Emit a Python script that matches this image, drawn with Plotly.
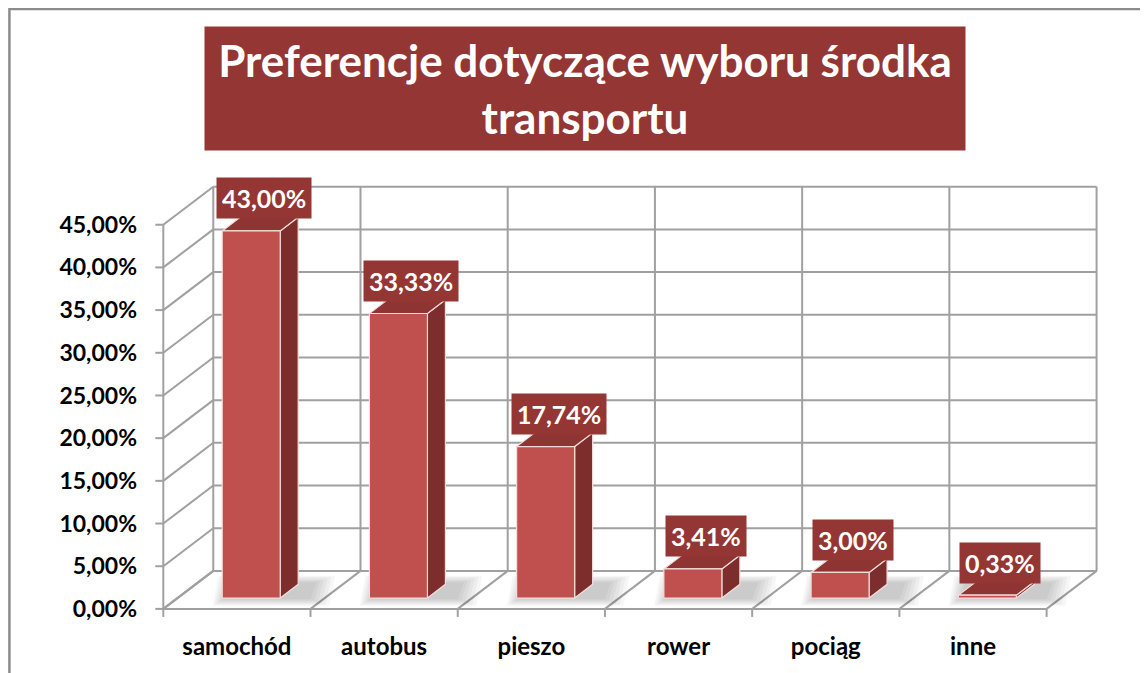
import plotly.graph_objects as go

# ---- data ----
categories = ["samochód", "autobus", "pieszo", "rower", "pociąg", "inne"]
values = [43.00, 33.33, 17.74, 3.41, 3.00, 0.33]
value_labels = ["43,00%", "33,33%", "17,74%", "3,41%", "3,00%", "0,33%"]
y_ticks = [0, 5, 10, 15, 20, 25, 30, 35, 40, 45]
y_tick_labels = ["0,00%", "5,00%", "10,00%", "15,00%", "20,00%", "25,00%",
                 "30,00%", "35,00%", "40,00%", "45,00%"]
title_text = "Preferencje dotyczące wyboru środka<br>transportu"

# ---- geometry / style ----
OFF = 8                      # page body margin
W, H = 1148 - OFF, 673 - OFF
PXU = 147.33                 # px per category unit
PYU = 8.533                  # px per percent
X0PX, Y0PX = 163 - OFF, 609 - OFF
N = len(categories)
YMAX = 45
DX = 50 / PXU
DY = 38 / PYU
XLO, XHI = -0.07, N + DX + 0.03
YLO, YHI = -1.3, YMAX + DY + 0.2

l = X0PX + XLO * PXU
pw = (XHI - XLO) * PXU
r = W - l - pw
bpx = Y0PX - YLO * PYU
b = H - bpx
t = Y0PX - YHI * PYU
ph = bpx - t

def pxx(px):
    return (px - OFF - l) / pw

def pxy(py):
    return (bpx - (py - OFF)) / ph

GRID = "#A0A0A0"
FRONT = "#C0504D"
SIDE = "#7D2E2C"
TOP = "#8E3432"
LABEL_BG = "#943634"
EDGE = "#F2DCDB"
FONT = "Lato"

fig = go.Figure()

def add_lines(segs, color=GRID, width=2):
    xs, ys = [], []
    for (xa, ya, xb, yb) in segs:
        xs += [xa, xb, None]
        ys += [ya, yb, None]
    fig.add_trace(go.Scatter(x=xs, y=ys, mode="lines", line=dict(color=color, width=width),
                             hoverinfo="skip", showlegend=False))

def add_poly(xs, ys, fill, line_color=None, line_width=0):
    fig.add_trace(go.Scatter(x=xs + [xs[0]], y=ys + [ys[0]], mode="lines", fill="toself",
                             fillcolor=fill,
                             line=dict(color=line_color or "rgba(0,0,0,0)", width=line_width),
                             hoverinfo="skip", showlegend=False))

segs = []
for v in y_ticks:
    segs.append((DX, v + DY, N + DX, v + DY))
for i in range(N + 1):
    segs.append((i + DX, DY, i + DX, YMAX + DY))
for v in y_ticks:
    segs.append((0, v, DX, v + DY))
segs.append((0, 0, 0, YMAX))
for i in range(N + 1):
    segs.append((i, 0, i + DX, DY))
segs.append((0, 0, N, 0))
tick_dx = 8 / PXU
for v in y_ticks:
    segs.append((-tick_dx, v, 0, v))
for i in range(N + 1):
    segs.append((i, 0, i, -8 / PYU))
add_lines(segs)

HW = 0.197
F1, F2 = 0.286, 0.646
ddx, ddy = (F2 - F1) * DX, (F2 - F1) * DY
for i, v in enumerate(values):
    c = i + 0.5
    x0 = c - HW + F1 * DX
    x1 = c + HW + F1 * DX
    y0 = F1 * DY
    y1 = v + F1 * DY
    # soft shadow on the floor
    for k in range(6):
        e = 0.16 - k * 0.025
        sx0, sx1 = x0 - e * 0.6 + 0.03, x1 + ddx + e + 0.05
        sy0 = y0 - 0.9 + k * 0.15
        sy1 = y0 + ddy + 1.0 - k * 0.15
        add_poly([sx0, sx1, sx1 + 0.04, sx0 + 0.04], [sy0, sy0, sy1, sy1], "rgba(0,0,0,0.035)")
    add_poly([x1, x1 + ddx, x1 + ddx, x1], [y0, y0 + ddy, y1 + ddy, y1], SIDE, EDGE, 1.2)
    add_poly([x0, x1, x1 + ddx, x0 + ddx], [y1, y1, y1 + ddy, y1 + ddy], TOP, EDGE, 1.2)
    add_poly([x0, x1, x1, x0], [y0, y0, y1, y1], FRONT, EDGE, 1.2)
    fig.add_annotation(x=c + 0.185, y=v + 5.1, text=f"<b>{value_labels[i]}</b>", showarrow=False,
                       bgcolor=LABEL_BG, borderpad=5, height=30,
                       font=dict(family=FONT, size=25, color="white"),
                       xanchor="center", yanchor="middle")

fig.add_annotation(xref="paper", yref="paper", x=pxx(585), y=pxy(88.5),
                   text=f"<b>{title_text}</b>", showarrow=False,
                   width=760, height=123, bgcolor=LABEL_BG, borderpad=0,
                   font=dict(family=FONT, size=44, color="white"),
                   xanchor="center", yanchor="middle", align="center")

fig.add_shape(type="rect", xref="paper", yref="paper",
              x0=pxx(9), y0=pxy(9.5), x1=pxx(1148 + 20), y1=pxy(673 + 20),
              line=dict(color="#8C8C8C", width=2.5), fillcolor="rgba(0,0,0,0)", layer="above")

fig.update_layout(
    width=W, height=H,
    margin=dict(l=l, r=r, t=t, b=b, autoexpand=False),
    paper_bgcolor="white", plot_bgcolor="white",
    showlegend=False,
    xaxis=dict(range=[XLO, XHI], showgrid=False, zeroline=False, showline=False,
               tickmode="array", tickvals=[i + 0.5 for i in range(N)],
               ticktext=[f"<b>{c}</b>" for c in categories], ticks="",
               ticklabelstandoff=10,
               tickfont=dict(family=FONT, size=24, color="black"), fixedrange=True),
    yaxis=dict(range=[YLO, YHI], showgrid=False, zeroline=False, showline=False,
               tickmode="array", tickvals=y_ticks,
               ticktext=[f"<b>{s}</b>" for s in y_tick_labels], ticks="",
               ticklabelstandoff=15,
               tickfont=dict(family=FONT, size=23, color="black"), fixedrange=True),
)

fig.write_html("out.html")
